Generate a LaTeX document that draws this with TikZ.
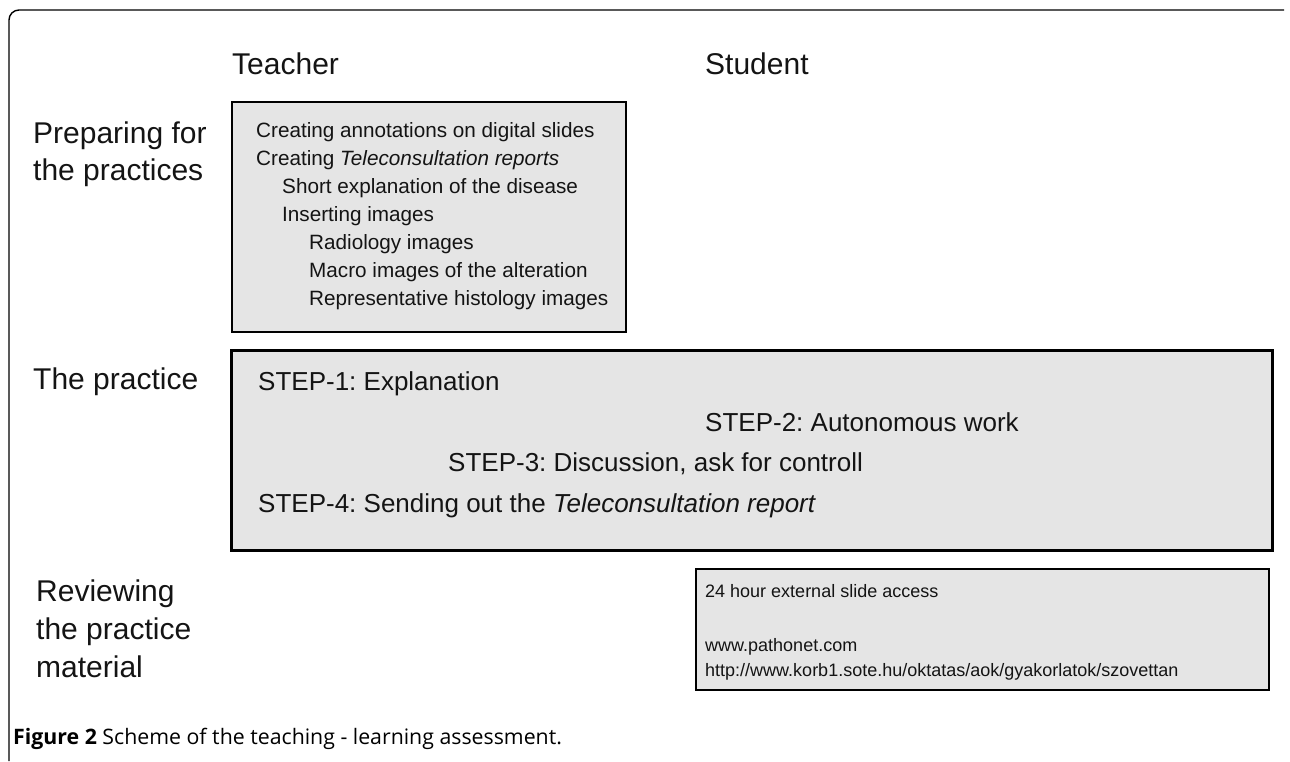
\documentclass[tikz,border=0pt]{standalone}
\usepackage{fontspec}
\setmainfont{Liberation Sans}
\newfontfamily\capfont{Open Sans}
\definecolor{boxgray}{RGB}{229,229,229}
\definecolor{ink}{RGB}{20,20,20}
\frenchspacing
\begin{document}
\begin{tikzpicture}[x=1pt,y=-1pt,
  lab/.style={anchor=base west, inner sep=0pt, text=ink, font=\fontsize{30}{36}\selectfont},
  small/.style={anchor=base west, inner sep=0pt, text=ink, font=\fontsize{20.7}{24}\selectfont},
  mid/.style={anchor=base west, inner sep=0pt, text=ink, font=\fontsize{26}{30}\selectfont},
  tiny/.style={anchor=base west, inner sep=0pt, text=ink, font=\fontsize{18}{22}\selectfont},
  panel/.style={draw=black, fill=boxgray, line width=2pt, inner sep=0pt, anchor=north west}
]
\useasboundingbox (0,0) rectangle (1290,761);
% outer frame
\draw[line width=1.4pt, rounded corners=10pt] (9,761) -- (9,10) -- (1284,10);

% column heads
\node[lab] (teacher) at (232,74) {Teacher};
\node[lab] (student) at (705,74) {Student};

% row labels
\node[lab] (prep1) at (33,143) {Preparing for};
\node[lab] (prep2) at (33,180) {the practices};
\node[lab] (prac) at (33,389) {The practice};
\node[lab] (rev1) at (36,601) {Reviewing};
\node[lab] (rev2) at (36,639) {the practice};
\node[lab] (rev3) at (36,677) {material};

% boxes
\node[panel, minimum width=394pt, minimum height=230pt] (prepbox) at (231,101) {};
\node[panel, line width=2.8pt, minimum width=1041pt, minimum height=200pt] (pracbox) at (230,349) {};
\node[panel, minimum width=573pt, minimum height=121pt] (revbox) at (695,568) {};

% box 1 text
\node[small] (p1) at (256,137) {Creating annotations on digital slides};
\node[small] (p2) at (256,165) {Creating \textit{Teleconsultation reports}};
\node[small] (p3) at (282,193) {Short explanation of the disease};
\node[small] (p4) at (282,221) {Inserting images};
\node[small] (p5) at (309,249) {Radiology images};
\node[small] (p6) at (309,277) {Macro images of the alteration};
\node[small] (p7) at (309,305) {Representative histology images};

% box 2 text
\node[mid] (s1) at (258,390) {STEP-1: Explanation};
\node[mid] (s2) at (705,431) {STEP-2: Autonomous work};
\node[mid] (s3) at (448,471) {STEP-3: Discussion, ask for controll};
\node[mid] (s4) at (258,512) {STEP-4: Sending out the \textit{Teleconsultation report}};

% box 3 text
\node[tiny] (r1) at (705,597) {24 hour external slide access};
\node[tiny] (r2) at (705,651) {www.pathonet.com};
\node[tiny] (r3) at (705,676) {http://www.korb1.sote.hu/oktatas/aok/gyakorlatok/szovettan};

% caption
\node[anchor=base west, inner sep=0pt, font=\capfont\fontsize{21.3}{24}\selectfont] (cap) at (13,744)
  {\textbf{Figure 2} Scheme of the teaching - learning assessment.};
\end{tikzpicture}
\end{document}
